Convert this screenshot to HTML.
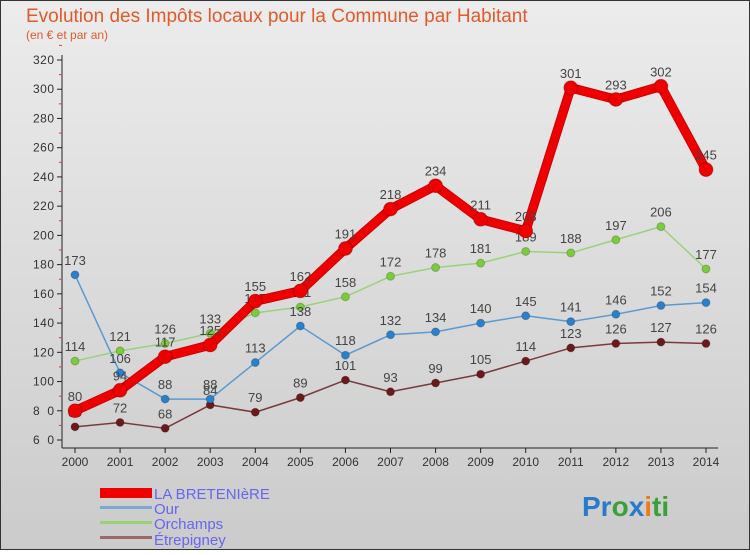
<!DOCTYPE html>
<html><head><meta charset="utf-8"><style>
body{margin:0;width:750px;height:550px;overflow:hidden;font-family:"Liberation Sans",sans-serif}
</style></head><body>
<svg id="c" width="750" height="550" xmlns="http://www.w3.org/2000/svg">
<defs><linearGradient id="bg" x1="0" y1="0" x2="0" y2="1"><stop offset="0" stop-color="#ececec"/><stop offset="1" stop-color="#cbcbcb"/></linearGradient></defs>
<rect x="0.5" y="0.5" width="749" height="549" fill="url(#bg)" stroke="#333"/>
<text x="26" y="22" font-size="19" fill="#e05a2a">Evolution des Impôts locaux pour la Commune par Habitant</text>
<text x="26" y="39" font-size="12" fill="#e05a2a">(en € et par an)</text>
<g id="axes"></g><g id="series"></g>
<g font-size="15" fill="#6666ee">
<rect x="100" y="488" width="52" height="10" fill="#e00"/>
<text x="154" y="499">LA BRETENIèRE</text>
<rect x="100" y="506" width="52" height="3" fill="#7aaad0"/>
<text x="154" y="514">Our</text>
<rect x="100" y="521" width="52" height="3" fill="#9ad27a"/>
<text x="154" y="529">Orchamps</text>
<rect x="100" y="536" width="52" height="3" fill="#9a6a6a"/>
<text x="154" y="545">Étrepigney</text>
</g>
<text x="582" y="516" font-size="28" font-weight="bold"><tspan fill="#2a7acc">Pr</tspan><tspan fill="#3aa03a">o</tspan><tspan fill="#2a7acc">x</tspan><tspan fill="#f07a1a">i</tspan><tspan fill="#3aa03a">ti</tspan></text>
</svg>
<script>
const years=[2000,2001,2002,2003,2004,2005,2006,2007,2008,2009,2010,2011,2012,2013,2014];
const yTicks=[60,80,100,120,140,160,180,200,220,240,260,280,300,320];
const bretenière=[80,94,117,125,155,162,191,218,234,211,203,301,293,302,245];
const our=[173,106,88,88,113,138,118,132,134,140,145,141,146,152,154];
const orchamps=[114,121,126,133,147,151,158,172,178,181,189,188,197,206,177];
const etrepigney=[69,72,68,84,79,89,101,93,99,105,114,123,126,127,126];
const NS="http://www.w3.org/2000/svg";
const X=i=>75+i*(706-75)/(years.length-1);
const Y=v=>440-(v-60)*(380/260);
function mk(t,a,p){const e=document.createElementNS(NS,t);for(const k in a)e.setAttribute(k,a[k]);p.appendChild(e);return e;}
const ax=document.getElementById('axes');
mk('line',{x1:62,y1:55,x2:62,y2:448,stroke:'#222'},ax);
mk('line',{x1:62,y1:448,x2:718,y2:448,stroke:'#222'},ax);
yTicks.forEach(v=>{
 mk('line',{x1:57,y1:Y(v),x2:62,y2:Y(v),stroke:'#222'},ax);
 mk('line',{x1:59,y1:Y(v+10),x2:62,y2:Y(v+10),stroke:'#e33'},ax);
 const t=mk('text',{x:54,y:Y(v)+4,'font-size':12,'text-anchor':'end',fill:'#333','textLength':21},ax);t.textContent=v;
 
 
});
years.forEach((y,i)=>{
 mk('line',{x1:X(i),y1:448,x2:X(i),y2:453,stroke:'#222'},ax);
 const t=mk('text',{x:X(i),y:466,'font-size':12,'text-anchor':'middle',fill:'#333'},ax);t.textContent=y;
 
 
});
const sg=document.getElementById('series');
function draw(name,d,color,w,r,dot,edge){
 const g=mk('g',{},sg);
 
 
 const pts=d.map((v,i)=>X(i)+','+Y(v)).join(' ');
 if(edge) mk('polyline',{points:pts,fill:'none',stroke:edge,'stroke-width':w+1.5,'stroke-linejoin':'round'},g);
 mk('polyline',{points:pts,fill:'none',stroke:color,'stroke-width':w,'stroke-linejoin':'round'},g);
 d.forEach((v,i)=>{
  const c=mk('circle',{cx:X(i),cy:Y(v),r:r,fill:dot,stroke:'rgba(0,0,0,0.2)'},g);
  
  
  const t=mk('text',{x:X(i),y:Y(v)-10,'font-size':13,'text-anchor':'middle',fill:'#444'},g);t.textContent=v;
  
  
 });
}
draw('etrepigney',etrepigney,'#7a3a3a',1.5,4,'#6a1a1a');
draw('orchamps',orchamps,'#9ad27a',1.5,4,'#7acc3a');
draw('our',our,'#5a9ad0',1.5,4,'#2a80cc');
draw('bretenière',bretenière,'#ee0000',8,7,'#ee0000','#c00000');
</script>
</body></html>
